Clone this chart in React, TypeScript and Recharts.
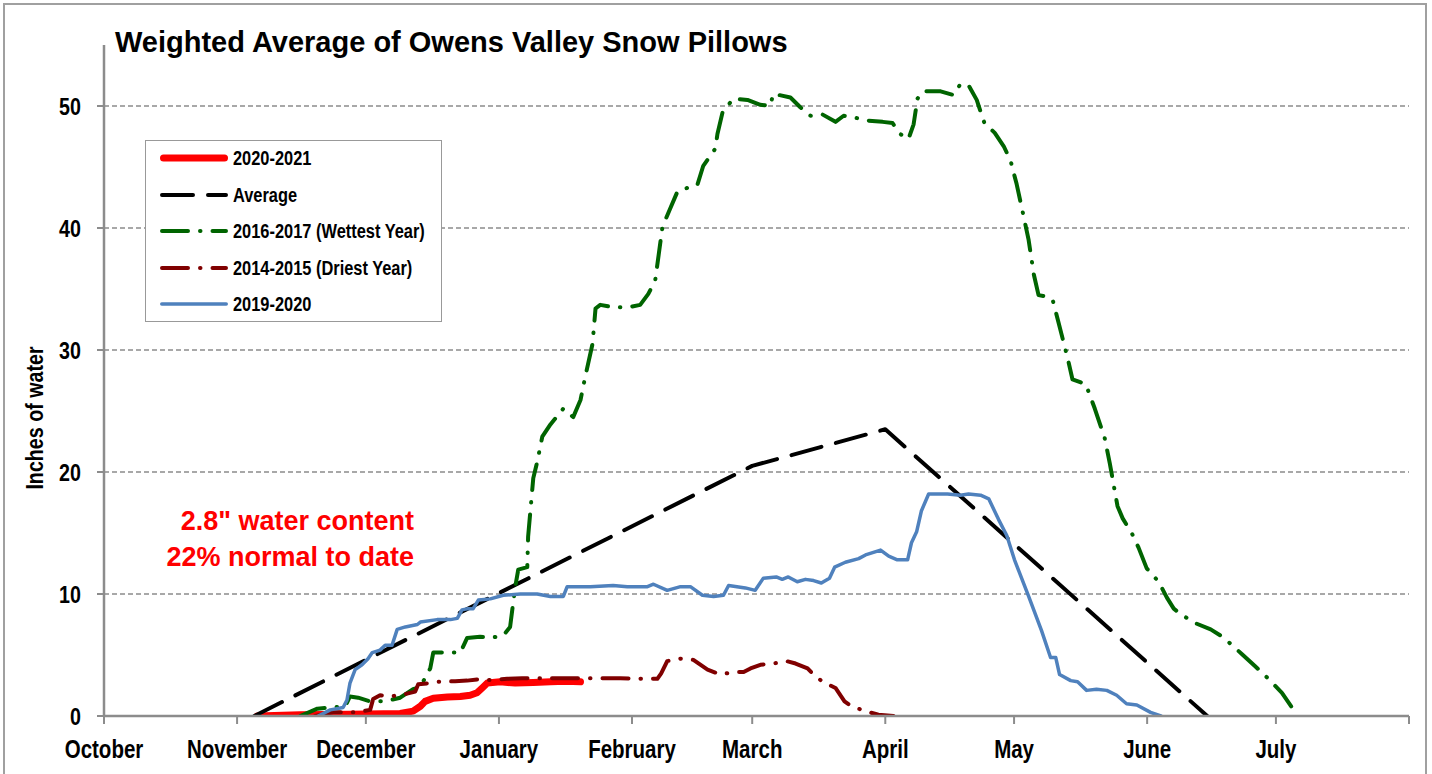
import { LineChart, Line, XAxis, YAxis, CartesianGrid, Legend } from "recharts";

// Día de temporada contado desde el 1 de octubre (0) hasta el 1 de agosto (304).
const MONTH_START_DAYS = [0, 31, 61, 92, 123, 151, 182, 212, 243, 273, 304];
const MONTH_LABELS = ["October", "November", "December", "January", "February", "March", "April", "May", "June", "July", ""];
const Y_TICKS = [0, 10, 20, 30, 40, 50];
const GRID_VALUES = [10, 20, 30, 40, 50];

// [día, pulgadas de agua]
const CURRENT_2021 = [
  [35.7, 0], [45.7, 0.1], [57.3, 0.15], [69.0, 0.2], [72.0, 0.4], [73.7, 0.8], [74.8, 1.2],
  [76.7, 1.45], [80.0, 1.55], [83.0, 1.6], [85.3, 1.7], [86.9, 1.9], [88.1, 2.3], [89.3, 2.7],
  [92.3, 2.8], [95.8, 2.7], [100.0, 2.75], [104.0, 2.8], [107.5, 2.85], [111.0, 2.8],
];

const AVERAGE = [[35, 0], [151, 20.5], [182, 23.5], [257, 0]];

const WETTEST_2017 = [
  [45.7, 0], [49.7, 0.6], [52.7, 0.7], [56.2, 0.8], [57.3, 1.6], [59.2, 1.5], [62.0, 1.2],
  [65.5, 1.2], [69.0, 1.5], [72.0, 2.2], [73.7, 2.4], [76.0, 3.9], [76.7, 5.2], [79.5, 5.2],
  [83.0, 5.2], [84.6, 6.4], [87.6, 6.5], [90.0, 6.4], [93.0, 6.6], [94.6, 7.3], [95.8, 10.6],
  [96.5, 12], [98.6, 12.2], [98.8, 14.7], [100.0, 19.5], [100.9, 20.8], [102.1, 22.9],
  [104.0, 23.9], [107.0, 25.2], [109.3, 24.5], [111.0, 25.9], [112.1, 27.8], [113.8, 30.5],
  [114.5, 33.4], [115.6, 33.7], [118.6, 33.5], [122.1, 33.5], [124.9, 33.7], [126.8, 34.6],
  [128.4, 35.7], [130.1, 40.1], [131.9, 41.6], [133.6, 43], [135.0, 43.2], [138.2, 43.5],
  [139.6, 45.1], [142.4, 46.5], [142.9, 47.7], [144.1, 49.5], [146.6, 50.6], [149.9, 50.5],
  [152.9, 50.1], [155.2, 50], [155.9, 51], [159.9, 50.7], [162.2, 49.9], [164.6, 49.2],
  [167.4, 49.3], [170.4, 48.7], [172.3, 49.2], [175.5, 49], [178.1, 48.8], [181.4, 48.7],
  [183.7, 48.6], [185.5, 47.7], [187.4, 47.3], [188.6, 48.5], [189.5, 50.6], [190.7, 51.2],
  [194.9, 51.2], [197.9, 50.9], [199.5, 51.8], [201.4, 51.7], [203.3, 50.5], [205.1, 48.6],
  [207.5, 47.8], [209.6, 46.7], [211.2, 45.5], [212.6, 43.6], [214.2, 41], [215.4, 39],
  [216.6, 36.2], [217.7, 34.5], [219.3, 34.4], [221.0, 34.1], [222.4, 32.2], [224.5, 29.3],
  [225.6, 27.6], [228.7, 27.2], [230.8, 25.2], [233.1, 22.8], [234.3, 20.7], [236.1, 17.2],
  [237.3, 16.2], [239.4, 15], [241.0, 13.8], [242.9, 12.1], [245.7, 11], [247.6, 9.7],
  [249.2, 8.8], [251.0, 8.3], [254.3, 7.6], [257.8, 7.1], [260.1, 6.6], [262.5, 5.9],
  [265.3, 5], [268.1, 4.1], [271.1, 3.1], [274.4, 1.9], [278.1, 0],
];

const DRIEST_2015 = [
  [49.2, 0], [53.4, 0.3], [59.0, 0.3], [62.0, 0.5], [62.7, 1.4], [64.3, 1.7], [66.7, 1.6],
  [70.2, 1.8], [72.5, 2.0], [73.2, 2.6], [76.0, 2.7], [77.6, 2.8], [81.8, 2.85], [84.6, 2.9],
  [86.9, 3.0], [90.0, 2.95], [93.9, 3.05], [97.4, 3.1], [103.5, 3.1], [107.0, 3.1],
  [112.6, 3.1], [120.3, 3.1], [126.1, 3.05], [128.9, 3.05], [129.8, 3.5], [131.2, 4.5],
  [134.3, 4.7], [137.3, 4.6], [140.6, 3.8], [143.6, 3.4], [146.6, 3.6], [149.0, 3.6],
  [150.6, 3.9], [152.9, 4.2], [155.9, 4.3], [159.0, 4.5], [161.1, 4.3], [163.9, 3.9],
  [165.0, 3.5], [167.4, 2.8], [170.4, 2.3], [172.5, 1.2], [174.1, 0.8], [177.4, 0.4],
  [180.4, 0.1], [183.9, 0],
];

const LAST_2020 = [
  [49.9, 0], [52.7, 0.5], [55.7, 0.7], [56.6, 1.3], [57.3, 2.7], [58.5, 3.8], [60.1, 4.2],
  [61.5, 4.7], [62.5, 5.2], [64.3, 5.4], [65.5, 5.8], [67.1, 5.8], [68.3, 7.1], [70.2, 7.3],
  [73.0, 7.5], [73.7, 7.7], [77.6, 7.9], [80.7, 7.9], [82.3, 8.0], [83.4, 8.7], [84.8, 8.8],
  [86.0, 8.8], [87.2, 9.5], [90.0, 9.6], [93.0, 9.9], [97.0, 10.0], [100.9, 10.0],
  [104.0, 9.8], [107.0, 9.8], [107.9, 10.6], [113.3, 10.6], [118.6, 10.7], [121.9, 10.6],
  [126.6, 10.6], [128.0, 10.8], [131.2, 10.3], [134.3, 10.6], [136.6, 10.6], [139.4, 9.9],
  [142.0, 9.8], [144.3, 9.9], [145.5, 10.7], [149.4, 10.5], [151.7, 10.3], [153.6, 11.3],
  [156.6, 11.4], [158.0, 11.2], [159.4, 11.4], [161.5, 11.0], [163.4, 11.2], [165.3, 11.1],
  [167.1, 10.9], [169.0, 11.3], [170.2, 12.2], [172.7, 12.6], [175.8, 12.9], [177.4, 13.2],
  [180.9, 13.6], [182.8, 13.1], [184.8, 12.8], [187.2, 12.8], [188.1, 14.2], [189.3, 15.1],
  [190.4, 16.8], [192.1, 18.2], [196.5, 18.2], [199.5, 18.1], [201.4, 18.2], [204.2, 18.1],
  [206.1, 17.8], [208.4, 16.1], [210.3, 14.8], [212.1, 12.8], [215.4, 9.8], [218.4, 7.0],
  [220.5, 4.8], [221.7, 4.8], [222.6, 3.4], [225.2, 2.9], [226.8, 2.8], [228.9, 2.1],
  [231.2, 2.2], [233.6, 2.1], [235.9, 1.7], [238.2, 1.0], [240.6, 0.9], [243.8, 0.3],
  [246.2, 0],
];

const FONT = '"Liberation Sans", Arial, sans-serif';
const GRAY = "#8c8c8c";
const DASH_DOT = "26 12 0.5 12";
// El original usa una fuente angosta (tipo Arial Narrow) que no está instalada;
// se comprime la Liberation Sans en horizontal para igualar los anchos.
const NARROW_SCALE = 0.82;

// Estilos en el orden de la leyenda (y de dibujo: el último queda arriba).
const SERIES = [
  { key: "cur", name: "2020-2021", points: CURRENT_2021, color: "#ff0000", width: 7, dash: undefined as string | undefined },
  { key: "avg", name: "Average", points: AVERAGE, color: "#000000", width: 4, dash: "31 15" },
  { key: "wet", name: "2016-2017 (Wettest Year)", points: WETTEST_2017, color: "#006400", width: 4, dash: DASH_DOT },
  { key: "dry", name: "2014-2015 (Driest Year)", points: DRIEST_2015, color: "#800000", width: 4, dash: DASH_DOT },
  { key: "last", name: "2019-2020", points: LAST_2020, color: "#4f81bd", width: 3.5, dash: undefined },
];

const toRows = (pts: number[][]) => pts.map(([day, inches]) => ({ day, inches }));

function MonthTick(props: any) {
  const { x, y, payload } = props;
  const label = MONTH_LABELS[MONTH_START_DAYS.indexOf(payload.value)] ?? "";
  return (
    <g transform={`translate(${x},${y})`}>
      <text
        transform={`scale(${NARROW_SCALE},1)`}
        textAnchor="middle"
        dy="0.71em"
        fontSize={25}
        fontWeight={700}
        fontFamily={FONT}
        fill="#000"
      >
        {label}
      </text>
    </g>
  );
}

function InchTick(props: any) {
  const { x, y, payload } = props;
  return (
    <g transform={`translate(${x},${y})`}>
      <text
        transform={`scale(${NARROW_SCALE},1)`}
        textAnchor="end"
        dy="0.355em"
        fontSize={24}
        fontWeight={700}
        fontFamily={FONT}
        fill="#000"
      >
        {payload.value}
      </text>
    </g>
  );
}

function LegendBox() {
  return (
    <div
      style={{
        width: 297,
        height: 182,
        border: "1.5px solid #999",
        background: "#fff",
        boxSizing: "border-box",
        position: "relative",
      }}
    >
      {SERIES.map((s, i) => (
        <div key={s.key} style={{ position: "absolute", left: 0, top: 5 + i * 36.5, height: 24, width: 295 }}>
          <svg width={90} height={24} style={{ position: "absolute", left: 0, top: 0 }}>
            <line
              x1={14 + s.width / 2}
              x2={82 - s.width / 2}
              y1={12}
              y2={12}
              stroke={s.color}
              strokeWidth={s.width}
              strokeDasharray={s.dash}
              strokeLinecap="round"
            />
          </svg>
          <span
            style={{
              position: "absolute",
              left: 87,
              top: 0,
              lineHeight: "24px",
              fontSize: 20,
              fontWeight: 700,
              fontFamily: FONT,
              color: "#000",
              whiteSpace: "nowrap",
              transform: `scaleX(${NARROW_SCALE})`,
              transformOrigin: "0 50%",
            }}
          >
            {s.name}
          </span>
        </div>
      ))}
    </div>
  );
}

export default function App() {
  return (
    <div
      style={{
        position: "absolute",
        left: 0,
        top: 0,
        width: 1432,
        height: 774,
        background: "#fff",
        overflow: "hidden",
      }}
    >
      <div
        style={{
          position: "absolute",
          left: 3,
          top: 3,
          width: 1424,
          height: 820,
          border: "2px solid #a0a0a0",
          boxSizing: "border-box",
        }}
      />
      <div style={{ position: "absolute", left: 0, top: 0 }}>
        <LineChart width={1432} height={774} margin={{ top: 45, right: 23, bottom: 18, left: 44 }}>
          <CartesianGrid
            vertical={false}
            horizontalValues={GRID_VALUES}
            stroke={GRAY}
            strokeDasharray="5 3"
            strokeWidth={1.5}
          />
          <XAxis
            type="number"
            dataKey="day"
            domain={[0, 304]}
            ticks={MONTH_START_DAYS}
            interval={0}
            allowDataOverflow
            height={40}
            tickSize={8}
            tickMargin={16}
            axisLine={{ stroke: GRAY, strokeWidth: 2.5 }}
            tickLine={{ stroke: GRAY, strokeWidth: 2 }}
            tick={<MonthTick />}
          />
          <YAxis
            type="number"
            domain={[0, 55]}
            ticks={Y_TICKS}
            interval={0}
            allowDataOverflow
            width={60}
            tickSize={7}
            tickMargin={16}
            axisLine={{ stroke: GRAY, strokeWidth: 2.5 }}
            tickLine={{ stroke: GRAY, strokeWidth: 2 }}
            tick={<InchTick />}
          />
          <Legend
            layout="vertical"
            align="center"
            verticalAlign="middle"
            content={() => <LegendBox />}
            wrapperStyle={{ left: 145, top: 140, width: 297, height: 182, right: "auto", bottom: "auto" }}
          />
          {SERIES.map((s) => (
            <Line
              key={s.key}
              name={s.name}
              data={toRows(s.points)}
              dataKey="inches"
              type="linear"
              stroke={s.color}
              strokeWidth={s.width}
              strokeDasharray={s.dash}
              strokeLinecap="round"
              strokeLinejoin="round"
              dot={false}
              activeDot={false}
              isAnimationActive={false}
            />
          ))}
        </LineChart>
      </div>
      <svg
        width={1432}
        height={774}
        style={{ position: "absolute", left: 0, top: 0, pointerEvents: "none" }}
      >
        <text x={115} y={52} fontSize={29} fontWeight={700} fontFamily={FONT} fill="#000">
          Weighted Average of Owens Valley Snow Pillows
        </text>
        <text
          transform={`translate(43 418) rotate(-90) scale(${NARROW_SCALE} 1)`}
          textAnchor="middle"
          fontSize={24}
          fontWeight={700}
          fontFamily={FONT}
          fill="#000"
        >
          Inches of water
        </text>
        <text x={414} y={530} textAnchor="end" fontSize={27} fontWeight={700} fontFamily={FONT} fill="#ff0000">
          2.8" water content
        </text>
        <text x={414} y={566} textAnchor="end" fontSize={27} fontWeight={700} fontFamily={FONT} fill="#ff0000">
          22% normal to date
        </text>
      </svg>
    </div>
  );
}
